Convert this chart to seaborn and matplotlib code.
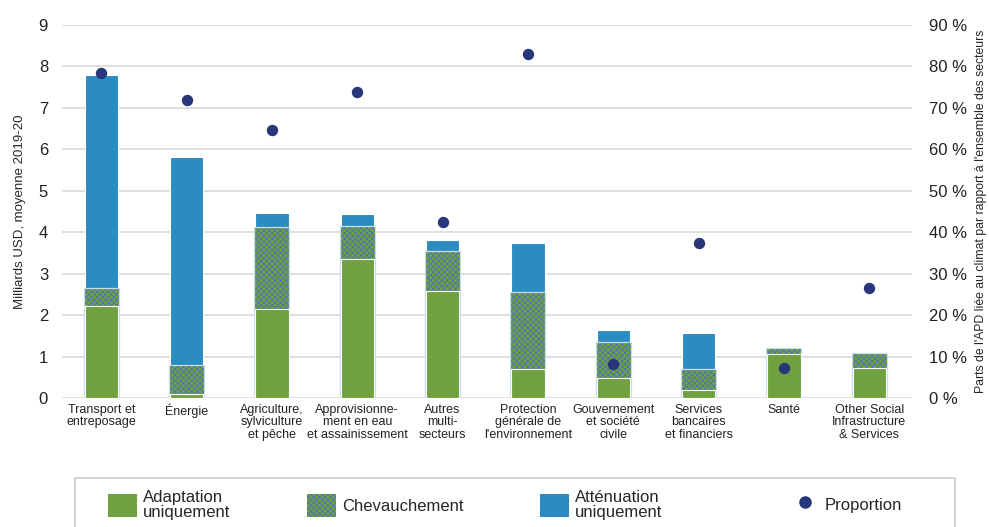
import matplotlib
matplotlib.use("Agg")
import matplotlib.pyplot as plt
import seaborn as sns
import numpy as np
import pandas as pd
from matplotlib.patches import Patch, Rectangle
from matplotlib.lines import Line2D

# données
secteurs = ["Transport et\nentreposage", "Énergie", "Agriculture,\nsylviculture\net pêche",
            "Approvisionne-\nment en eau\net assainissement", "Autres\nmulti-\nsecteurs",
            "Protection\ngénérale de\nl'environnement", "Gouvernement\net société\ncivile",
            "Services\nbancaires\net financiers", "Santé", "Other Social\nInfrastructure\n& Services"]
adaptation = [2.23, 0.10, 2.15, 3.35, 2.59, 0.70, 0.48, 0.20, 1.06, 0.72]
chevauchement = [0.43, 0.69, 1.98, 0.80, 0.95, 1.86, 0.88, 0.50, 0.14, 0.36]
attenuation = [5.13, 5.02, 0.33, 0.28, 0.28, 1.18, 0.28, 0.88, 0.04, 0.04]
proportion = [78.3, 72.0, 64.6, 73.9, 42.5, 83.1, 8.3, 37.4, 7.2, 26.5]

vert = "#70a141"
bleu = "#2b8cc1"
marine = "#27377a"
hachure = "#4a72b4"

sns.set_style("white")
plt.rcParams["font.family"] = ["Liberation Sans", "DejaVu Sans"]
plt.rcParams["hatch.linewidth"] = 0.6

df = pd.DataFrame({"secteur": secteurs,
                   "a": adaptation, "c": chevauchement, "m": attenuation})
df["ac"] = df["a"] + df["c"]
df["total"] = df["ac"] + df["m"]

fig = plt.figure(figsize=(9.89, 5.27), dpi=100)
ax = fig.add_axes([62/989, 1-398/527, (912-62)/989, (398-25)/527])

# barres empilées (superposées du total vers le bas)
sns.barplot(data=df, x="secteur", y="total", color=bleu, width=0.39,
            saturation=1, edgecolor="white", linewidth=0.8, ax=ax)
sns.barplot(data=df, x="secteur", y="ac", color=vert, width=0.41,
            saturation=1, ax=ax, hatch="xxxxxx", edgecolor=hachure, linewidth=0)
sns.barplot(data=df, x="secteur", y="ac", color="none", fill=False, width=0.41,
            ax=ax, edgecolor="#c8dde8", linewidth=0.9)
sns.barplot(data=df, x="secteur", y="a", color=vert, width=0.39,
            saturation=1, edgecolor="white", linewidth=0.8, ax=ax)

ax.set_ylim(0, 9)
ax.set_xlim(-0.46, 9.5)
ax.set_yticks(range(0, 10))
ax.yaxis.grid(True, color="#d9d9d9", lw=1.2)
ax.set_axisbelow(True)
sns.despine(ax=ax, left=True, bottom=True)
ax.tick_params(axis="x", length=0, labelsize=9, colors="#222222", pad=4)
ax.tick_params(axis="y", length=0, labelsize=12, pad=10, colors="#222222")
ax.set_xlabel("")
ax.set_ylabel("Milliards USD, moyenne 2019-20", fontsize=9.5, labelpad=9)
for lab in ax.get_xticklabels():
    lab.set_verticalalignment("top")
    lab.set_linespacing(1.1)

# proportion sur l'axe secondaire
ax2 = ax.twinx()
sns.stripplot(x=secteurs, y=proportion, jitter=False, color=marine, size=8.2,
              ax=ax2, zorder=5)
ax2.set_ylim(0, 90)
ax2.set_yticks(range(0, 100, 10))
ax2.set_yticklabels([f"{v} %" for v in range(0, 100, 10)])
ax2.set_xlim(-0.46, 9.5)
sns.despine(ax=ax2, left=True, bottom=True, right=True)
ax2.tick_params(axis="y", length=0, labelsize=12, pad=12, colors="#222222")
ax2.set_ylabel("Parts de l'APD liée au climat par rapport à l'ensemble des secteurs",
               fontsize=8.8, labelpad=6)

# cadre de la légende
fig.patches.append(Rectangle((75/989, -0.02), 880/989, 1-478/527+0.02,
                             transform=fig.transFigure, fill=False,
                             edgecolor="#cccccc", lw=1.2))

handles = [Patch(facecolor=vert, edgecolor="none"),
           Patch(facecolor=vert, edgecolor=hachure, hatch="xxxxxx", linewidth=0),
           Patch(facecolor=bleu, edgecolor="none")]
labels = ["Adaptation\nuniquement", "Chevauchement", "Atténuation\nuniquement"]
leg_kw = dict(frameon=False, fontsize=12, handlelength=1.75, handleheight=1.75,
              handletextpad=0.35, borderpad=0, borderaxespad=0)
leg = fig.legend(handles, labels, loc="center left", ncol=3,
                 bbox_to_anchor=(108/989, 1-505/527), columnspacing=4.6, **leg_kw)
leg2 = fig.legend([Line2D([], [], marker="o", color=marine, ls="none", markersize=8)],
                  ["Proportion"], loc="center left",
                  bbox_to_anchor=(790/989, 1-505/527), **leg_kw)
for t in list(leg.get_texts()) + list(leg2.get_texts()):
    t.set_linespacing(1.0)

fig.savefig("out.png", dpi=100)
